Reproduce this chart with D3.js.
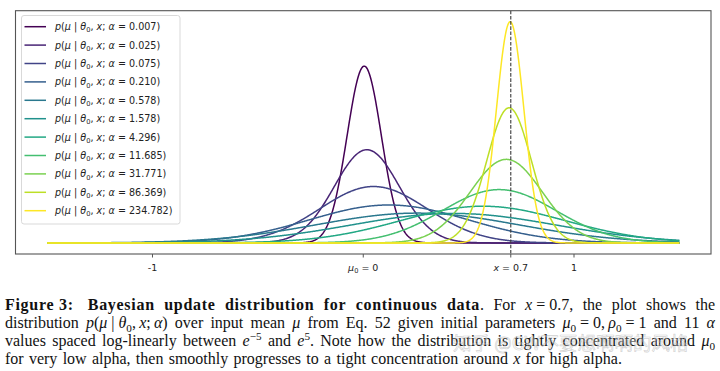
<!DOCTYPE html>
<html><head><meta charset="utf-8">
<script src="https://cdn.jsdelivr.net/npm/d3@7"></script>
<style>body{margin:0;background:#fff} svg{display:block}</style>
</head><body>
<svg id="c" width="720" height="371"></svg>
<script>
// ---- data ----
const alphas = [0.0067, 0.025, 0.075, 0.210, 0.578, 1.578, 4.296, 11.685, 31.771, 86.369, 234.782];
const alphaLabels = ["0.007","0.025","0.075","0.210","0.578","1.578","4.296","11.685","31.771","86.369","234.782"];
const xObs = 0.7, mu0 = 0, rho0 = 1;
const muRange = [-1.5, 1.5];
const xTicks = [-1, 0, 0.7, 1];
const xTickLabels = ["-1", "_μ_~0~\u00a0=\u00a00", "_x_\u00a0=\u00a00.7", "1"];
const captionLines = [
  "*Figure\u00a03:\u00a0 Bayesian update distribution for continuous data*. For _x_\u00a0=\u00a00.7, the plot shows the",
  "distribution _p_(_μ_\u00a0|\u00a0_θ_~0~,\u2009_x_;\u2009_α_) over input mean _μ_ from Eq. 52 given initial parameters _μ_~0~\u00a0=\u00a00,\u2009_ρ_~0~\u00a0=\u00a01 and 11 _α_",
  "values spaced log-linearly between _e_^−5^ and _e_^5^. Note how the distribution is tightly concentrated around _μ_~0~",
  "for very low alpha, then smoothly progresses to a tight concentration around _x_ for high alpha."
];
const watermark = "知乎 @GW不要想啊啊的风格";

// ---- helpers ----
function parse(str, state) {
  const segs = []; let cur = "";
  const push = () => { if (cur) { segs.push({t: cur, b: state.b, i: state.i, sub: state.sub, sup: state.sup}); cur = ""; } };
  for (const ch of str) {
    if (ch === '*') { push(); state.b = !state.b; }
    else if (ch === '_') { push(); state.i = !state.i; }
    else if (ch === '~') { push(); state.sub = !state.sub; }
    else if (ch === '^') { push(); state.sup = !state.sup; }
    else cur += ch;
  }
  push();
  return segs;
}
function addSegs(textSel, segs, fs) {
  let off = 0;
  segs.forEach(s => {
    const target = s.sub ? fs * 0.22 : (s.sup ? -fs * 0.38 : 0);
    textSel.append("tspan").text(s.t)
      .attr("dy", (target - off).toFixed(2))
      .attr("font-weight", s.b ? "bold" : null)
      .attr("letter-spacing", s.b ? "0.7" : null)
      .attr("font-style", s.i ? "italic" : null)
      .attr("font-size", (s.sub || s.sup) ? (fs * 0.7) : null);
    off = target;
  });
}

const svg = d3.select("#c");
const x = d3.scaleLinear().domain([-1.65, 1.65]).range([15.5, 711]);

const grid = d3.range(1001).map(i => muRange[0] + (muRange[1] - muRange[0]) * i / 1000);
const curves = alphas.map(a => {
  const m = (a * xObs + rho0 * mu0) / (rho0 + a);
  const s = Math.sqrt(a) / (rho0 + a);
  return grid.map(u => [u, Math.exp(-0.5 * ((u - m) / s) ** 2) / (s * Math.sqrt(2 * Math.PI))]);
});
const ymax = d3.max(curves, c => d3.max(c, d => d[1]));
const pad = ymax * 0.05;
const y = d3.scaleLinear().domain([-pad, ymax + pad]).range([254, 10.7]);
const color = i => d3.interpolateViridis(i / (alphas.length - 1));

const g = svg.append("g");
const line = d3.line().x(d => x(d[0])).y(d => y(d[1]));
g.selectAll("path.curve").data(curves).join("path")
  .attr("class", "curve").attr("d", line).attr("fill", "none")
  .attr("stroke", (d, i) => color(i)).attr("stroke-width", 1.5);

g.append("line").attr("x1", x(xObs)).attr("x2", x(xObs)).attr("y1", y.range()[1]).attr("y2", y.range()[0])
  .attr("stroke", "#3a3a3a").attr("stroke-width", 1.1).attr("stroke-dasharray", "3.6,1.6");

g.append("rect").attr("x", x.range()[0]).attr("y", y.range()[1])
  .attr("width", x.range()[1] - x.range()[0]).attr("height", y.range()[0] - y.range()[1])
  .attr("fill", "none").attr("stroke", "#555").attr("stroke-width", 1.1);

const xAxis = g.append("g").attr("transform", `translate(0,${y.range()[0]})`);
xTicks.forEach((t, i) => {
  xAxis.append("line").attr("x1", x(t)).attr("x2", x(t)).attr("y1", 0).attr("y2", 3.5)
    .attr("stroke", "#555").attr("stroke-width", 1);
  const tx = xAxis.append("text").attr("x", x(t)).attr("y", 17).attr("text-anchor", "middle")
    .attr("font-family", "DejaVu Sans").attr("font-size", 9.5).attr("fill", "#222");
  addSegs(tx, parse(xTickLabels[i], {}), 9.5);
});

// legend
const lg = svg.append("g");
lg.append("rect").attr("x", 21.5).attr("y", 15.5).attr("width", 158.5).attr("height", 208.5).attr("rx", 2.5)
  .attr("fill", "#fff").attr("fill-opacity", 0.85).attr("stroke", "#d9d9d9").attr("stroke-width", 1);
alphas.forEach((a, i) => {
  const yy = 26.7 + i * 18.4;
  lg.append("line").attr("x1", 24.5).attr("x2", 46).attr("y1", yy).attr("y2", yy)
    .attr("stroke", color(i)).attr("stroke-width", 1.5);
  const tx = lg.append("text").attr("x", 55).attr("y", yy + 3.5)
    .attr("font-family", "DejaVu Sans").attr("font-size", 9.6).attr("fill", "#222");
  addSegs(tx, parse(`_p_(_μ_\u00a0|\u00a0_θ_~0~,\u00a0_x_;\u00a0_α_\u00a0=\u00a0${alphaLabels[i]})`, {}), 9.6);
});

// caption
const cap = svg.append("g").attr("font-family", "Liberation Serif").attr("fill", "#111");
const capFs = 16, capX0 = 5, capX1 = 715, capY0 = 310, capDy = 18;
const st = {};
captionLines.forEach((ln, li) => {
  const words = ln.split(" ");
  const els = words.map(w => {
    const t = cap.append("text").attr("y", capY0 + li * capDy).attr("font-size", capFs);
    addSegs(t, parse(w, st), capFs);
    return t;
  });
  const widths = els.map(e => e.node().getComputedTextLength());
  const total = d3.sum(widths);
  const justify = li < captionLines.length - 1;
  const gap = justify ? (capX1 - capX0 - total) / (words.length - 1) : capFs * 0.33;
  let cx = capX0;
  els.forEach((e, k) => { e.attr("x", cx); cx += widths[k] + gap; });
});

// watermark
svg.append("text").attr("x", 453).attr("y", 350).attr("font-family", "Noto Sans CJK SC").attr("font-size", 18.5)
  .attr("fill", "#fff").attr("fill-opacity", 0.3).attr("stroke", "#999").attr("stroke-opacity", 0.45)
  .attr("stroke-width", 0.7).text(watermark);
</script>
</body></html>
